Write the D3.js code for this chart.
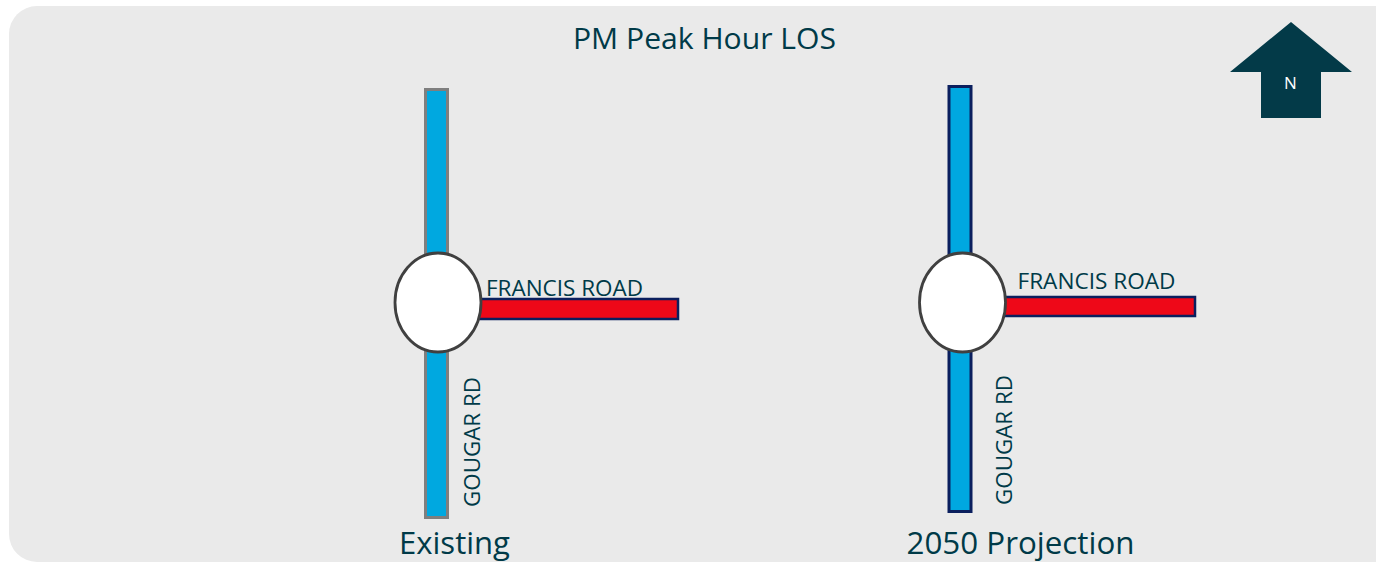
<!DOCTYPE html>
<html>
<head>
<meta charset="utf-8">
<script src="https://cdn.jsdelivr.net/npm/d3@7"></script>
<style>
  html, body { margin: 0; padding: 0; background: #ffffff; }
  svg { display: block; }
  text { font-family: "Open Sans", "DejaVu Sans", sans-serif; }
</style>
</head>
<body>
<svg id="chart" width="1376" height="562"></svg>
<script>
// ---- data ----
const title = "PM Peak Hour LOS";
const scenarios = ["Existing", "2050 Projection"];
const northSouthRoad = "GOUGAR RD";
const eastRoad = "FRANCIS ROAD";
const northSouthLOS = ["B", "B"];   // LOS grade on Gougar Rd per scenario
const eastLOS = ["F", "F"];         // LOS grade on Francis Road per scenario
const losGrades = ["A", "B", "C", "D", "E", "F"];
const losColors = ["#00A8E0", "#00A8E0", "#00A8E0", "#F2C500", "#F07D00", "#EE0818"];
const northLabel = "N";

// ---- layout ----
const W = 1376, H = 562;
const textColor = "#003A48";
const svg = d3.select("#chart");

const losColor = d3.scaleOrdinal().domain(losGrades).range(losColors);
const xCenter = d3.scalePoint().domain(scenarios).range([438, 962.5]);

// background panel
svg.append("rect")
  .attr("x", 9).attr("y", 6)
  .attr("width", 1400).attr("height", 556)
  .attr("rx", 28).attr("ry", 28)
  .attr("fill", "#EAEAEA");

// title
svg.append("text")
  .attr("x", 704.5).attr("y", 49)
  .attr("text-anchor", "middle")
  .attr("font-size", 30)
  .attr("fill", textColor)
  .attr("textLength", 263).attr("lengthAdjust", "spacingAndGlyphs")
  .text(title);

// per-scenario geometry tweaks (style only)
const nsStroke = ["#7F7F7F", "#0B1F5E"];
const nsOffset = [-1.5, -2.5];
const nsTop = [89.5, 86.5];
const nsBottom = [517.5, 511.5];
const ebRight = [678, 1195];
const ebTop = [299, 297];
const ebH = [20, 19];
const francisBase = [296, 289];
const francisLen = [157, 158];
const gougarBase = [480, 1012];
const gougarStart = [507, 505];
const scenLabelLen = [111, 228];

const groups = svg.selectAll("g.scenario")
  .data(scenarios.map((s, i) => ({ name: s, i, ns: northSouthLOS[i], eb: eastLOS[i] })))
  .join("g").attr("class", "scenario");

// north-south road
groups.append("rect")
  .attr("x", d => xCenter(d.name) + nsOffset[d.i] - 11)
  .attr("y", d => nsTop[d.i])
  .attr("width", 22)
  .attr("height", d => nsBottom[d.i] - nsTop[d.i])
  .attr("fill", d => losColor(d.ns))
  .attr("stroke", d => nsStroke[d.i])
  .attr("stroke-width", 3);

// east road
groups.append("rect")
  .attr("x", d => xCenter(d.name))
  .attr("y", d => ebTop[d.i])
  .attr("width", d => ebRight[d.i] - xCenter(d.name))
  .attr("height", d => ebH[d.i])
  .attr("fill", d => losColor(d.eb))
  .attr("stroke", "#0B1F5E")
  .attr("stroke-width", 2.5);

// roundabout
groups.append("ellipse")
  .attr("cx", d => xCenter(d.name))
  .attr("cy", 302.5)
  .attr("rx", 43)
  .attr("ry", 49.5)
  .attr("fill", "#FFFFFF")
  .attr("stroke", "#404040")
  .attr("stroke-width", 2.8);

// road labels
groups.append("text")
  .attr("x", d => xCenter(d.name) + 48 + (d.i ? 7 : 0))
  .attr("y", d => francisBase[d.i])
  .attr("font-size", 21.5)
  .attr("fill", textColor)
  .attr("textLength", d => francisLen[d.i]).attr("lengthAdjust", "spacingAndGlyphs")
  .text(eastRoad);

groups.append("text")
  .attr("transform", d => `translate(${gougarBase[d.i]},${gougarStart[d.i]}) rotate(-90)`)
  .attr("font-size", 22.5)
  .attr("fill", textColor)
  .attr("textLength", 130).attr("lengthAdjust", "spacingAndGlyphs")
  .text(northSouthRoad);

// scenario labels
groups.append("text")
  .attr("x", d => xCenter(d.name) + (d.i ? 58 : 16.5))
  .attr("y", 554)
  .attr("text-anchor", "middle")
  .attr("font-size", 31)
  .attr("fill", textColor)
  .attr("textLength", d => scenLabelLen[d.i]).attr("lengthAdjust", "spacingAndGlyphs")
  .text(d => d.name);

// north arrow
const arrow = d3.path();
arrow.moveTo(1291, 22);
arrow.lineTo(1352, 72);
arrow.lineTo(1321, 72);
arrow.lineTo(1321, 118);
arrow.lineTo(1261, 118);
arrow.lineTo(1261, 72);
arrow.lineTo(1230, 72);
arrow.closePath();
svg.append("path").attr("d", arrow.toString()).attr("fill", "#033A48");
svg.append("text")
  .attr("x", 1290.5).attr("y", 89)
  .attr("text-anchor", "middle")
  .attr("font-size", 17)
  .attr("fill", "#FFFFFF")
  .text(northLabel);
</script>
</body>
</html>
